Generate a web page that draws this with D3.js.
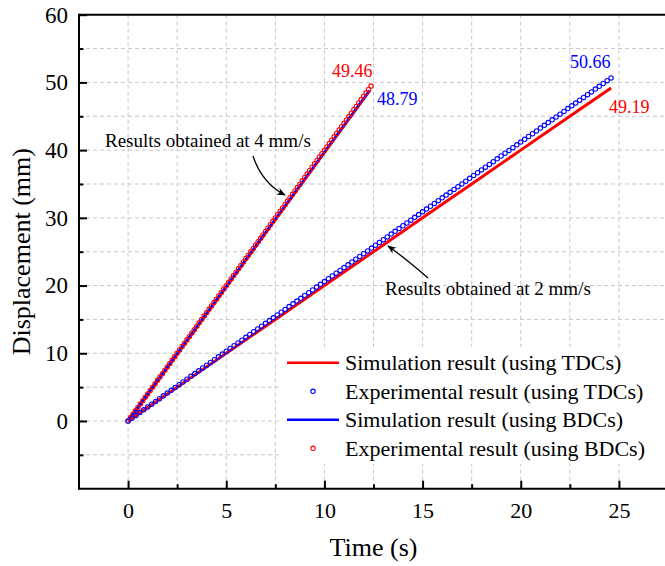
<!DOCTYPE html>
<html><head><meta charset="utf-8">
<script src="https://cdn.jsdelivr.net/npm/d3@7"></script>
<style>
body{margin:0;background:#fff;}
svg{display:block;font-family:"Liberation Serif","Times New Roman",serif;}
</style></head>
<body><svg id="c" width="665" height="566"></svg>
<script>
// ---- data ----
// Experimental result (using TDCs) at 2 mm/s  (blue circles)
const expTDC_t = [0,0.2,0.4,0.6,0.8,1.0,1.2,1.4,1.6,1.8,2.0,2.2,2.4,2.6,2.8,3.0,3.2,3.4,3.6,3.8,4.0,4.2,4.4,4.6,4.8,5.0,5.2,5.4,5.6,5.8,6.0,6.2,6.4,6.6,6.8,7.0,7.2,7.4,7.6,7.8,8.0,8.2,8.4,8.6,8.8,9.0,9.2,9.4,9.6,9.8,10.0,10.2,10.4,10.6,10.8,11.0,11.2,11.4,11.6,11.8,12.0,12.2,12.4,12.6,12.8,13.0,13.2,13.4,13.6,13.8,14.0,14.2,14.4,14.6,14.8,15.0,15.2,15.4,15.6,15.8,16.0,16.2,16.4,16.6,16.8,17.0,17.2,17.4,17.6,17.8,18.0,18.2,18.4,18.6,18.8,19.0,19.2,19.4,19.6,19.8,20.0,20.2,20.4,20.6,20.8,21.0,21.2,21.4,21.6,21.8,22.0,22.2,22.4,22.6,22.8,23.0,23.2,23.4,23.6,23.8,24.0,24.2,24.4,24.6];
const expTDC_d = [0,0.41,0.82,1.24,1.65,2.06,2.47,2.88,3.29,3.71,4.12,4.53,4.94,5.35,5.77,6.18,6.59,7.00,7.41,7.83,8.24,8.65,9.06,9.47,9.88,10.30,10.71,11.12,11.53,11.94,12.36,12.77,13.18,13.59,14.00,14.42,14.83,15.24,15.65,16.06,16.47,16.89,17.30,17.71,18.12,18.53,18.95,19.36,19.77,20.18,20.59,21.01,21.42,21.83,22.24,22.65,23.06,23.48,23.89,24.30,24.71,25.12,25.54,25.95,26.36,26.77,27.18,27.60,28.01,28.42,28.83,29.24,29.65,30.07,30.48,30.89,31.30,31.71,32.13,32.54,32.95,33.36,33.77,34.19,34.60,35.01,35.42,35.83,36.25,36.66,37.07,37.48,37.89,38.30,38.72,39.13,39.54,39.95,40.36,40.78,41.19,41.60,42.01,42.42,42.83,43.25,43.66,44.07,44.48,44.89,45.31,45.72,46.13,46.54,46.95,47.37,47.78,48.19,48.60,49.01,49.42,49.84,50.25,50.66];
// Experimental result (using BDCs) at 4 mm/s  (red circles)
const expBDC_t = [0,0.125,0.25,0.375,0.5,0.625,0.75,0.875,1.0,1.125,1.25,1.375,1.5,1.625,1.75,1.875,2.0,2.125,2.25,2.375,2.5,2.625,2.75,2.875,3.0,3.125,3.25,3.375,3.5,3.625,3.75,3.875,4.0,4.125,4.25,4.375,4.5,4.625,4.75,4.875,5.0,5.125,5.25,5.375,5.5,5.625,5.75,5.875,6.0,6.125,6.25,6.375,6.5,6.625,6.75,6.875,7.0,7.125,7.25,7.375,7.5,7.625,7.75,7.875,8.0,8.125,8.25,8.375,8.5,8.625,8.75,8.875,9.0,9.125,9.25,9.375,9.5,9.625,9.75,9.875,10.0,10.125,10.25,10.375,10.5,10.625,10.75,10.875,11.0,11.125,11.25,11.375,11.5,11.625,11.75,11.875,12.0,12.125,12.25,12.375];
const expBDC_d = [0,0.50,1.00,1.50,2.00,2.50,3.00,3.50,4.00,4.50,5.00,5.50,6.00,6.49,6.99,7.49,7.99,8.49,8.99,9.49,9.99,10.49,10.99,11.49,11.99,12.49,12.99,13.49,13.99,14.49,14.99,15.49,15.99,16.49,16.99,17.49,17.99,18.49,18.98,19.48,19.98,20.48,20.98,21.48,21.98,22.48,22.98,23.48,23.98,24.48,24.98,25.48,25.98,26.48,26.98,27.48,27.98,28.48,28.98,29.48,29.98,30.48,30.98,31.47,31.97,32.47,32.97,33.47,33.97,34.47,34.97,35.47,35.97,36.47,36.97,37.47,37.97,38.47,38.97,39.47,39.97,40.47,40.97,41.47,41.97,42.47,42.97,43.47,43.96,44.46,44.96,45.46,45.96,46.46,46.96,47.46,47.96,48.46,48.96,49.46];
// Simulation result (using TDCs) at 2 mm/s  (red line)
const simTDC_t = [0,2.5,5,7.5,10,12.5,15,17.5,20,22.5,24.6];
const simTDC_d = [0,5.0,10.0,15.0,20.0,25.0,30.0,35.0,40.0,45.0,49.19];
// Simulation result (using BDCs) at 4 mm/s  (blue line)
const simBDC_t = [0,2.5,5,7.5,10,12.3];
const simBDC_d = [0,9.92,19.84,29.76,39.67,48.79];

const xMajor = [0,5,10,15,20,25];
const xMinor = [2.5,7.5,12.5,17.5,22.5];
const yMajor = [0,10,20,30,40,50,60];
const yMinor = [-5,5,15,25,35,45,55];
const xGrid = [0,2.5,5,7.5,10,12.5,15,17.5,20,22.5,25,27.5];
const yGrid = [-5,0,5,10,15,20,25,30,35,40,45,50,55];

const legendLabels = ["Simulation result (using TDCs)","Experimental result (using TDCs)","Simulation result (using BDCs)","Experimental result (using BDCs)"];
const legendKinds = ["line","circle","line","circle"];
const legendColors = ["#ff0000","#0000ff","#0000ff","#ff0000"];

const endLabels = [
  {text:"49.46", color:"#ff0000"},
  {text:"48.79", color:"#0000ff"},
  {text:"50.66", color:"#0000ff"},
  {text:"49.19", color:"#ff0000"}
];

// ---- drawing ----
const svg = d3.select("#c");
const L=79, R=668, T=14.7, B=488.7;
const x = d3.scaleLinear().domain([-2.5,27.5]).range([L,R]);
const y = d3.scaleLinear().domain([-10,60]).range([B,T]);

// grid
const g = svg.append("g");
g.selectAll("line.vg").data(xGrid).join("line")
  .attr("x1",d=>x(d)).attr("x2",d=>x(d)).attr("y1",T).attr("y2",B)
  .attr("stroke","#c8c8c8").attr("stroke-width",1).attr("stroke-dasharray","4,3");
g.selectAll("line.hg").data(yGrid).join("line")
  .attr("y1",d=>y(d)).attr("y2",d=>y(d)).attr("x1",L).attr("x2",665)
  .attr("stroke","#c8c8c8").attr("stroke-width",1).attr("stroke-dasharray","4,3");

// legend background
svg.append("rect").attr("x",281).attr("y",347).attr("width",390).attr("height",117).attr("fill","#fff");

// data
const pts = (ts,ds)=>ts.map((t,i)=>[t,ds[i]]);
const line = d3.line().x(d=>x(d[0])).y(d=>y(d[1]));

svg.append("path").datum(pts(simBDC_t,simBDC_d)).attr("d",line)
  .attr("fill","none").attr("stroke","#0000ff").attr("stroke-width",3);
svg.append("path").datum(pts(simTDC_t,simTDC_d)).attr("d",line)
  .attr("fill","none").attr("stroke","#ff0000").attr("stroke-width",3);

svg.append("g").selectAll("circle").data(pts(expBDC_t,expBDC_d)).join("circle")
  .attr("cx",d=>x(d[0])).attr("cy",d=>y(d[1])).attr("r",2.2)
  .attr("fill","none").attr("stroke","#ff0000").attr("stroke-width",1.1);
svg.append("g").selectAll("circle").data(pts(expTDC_t,expTDC_d)).join("circle")
  .attr("cx",d=>x(d[0])).attr("cy",d=>y(d[1])).attr("r",2.2)
  .attr("fill","none").attr("stroke","#0000ff").attr("stroke-width",1.1);

// axes
const ax = svg.append("g").attr("transform",`translate(0,${B})`)
  .call(d3.axisBottom(x).tickValues(xMajor).tickSize(-8).tickPadding(14).tickFormat(d3.format("d")));
ax.select(".domain").remove();
svg.append("g").attr("transform",`translate(0,${B})`)
  .call(d3.axisBottom(x).tickValues(xMinor).tickSize(-4.5).tickFormat(""))
  .select(".domain").remove();
const ay = svg.append("g").attr("transform",`translate(${L},0)`)
  .call(d3.axisLeft(y).tickValues(yMajor).tickSize(-8).tickPadding(11).tickFormat(d3.format("d")));
ay.select(".domain").remove();
svg.append("g").attr("transform",`translate(${L},0)`)
  .call(d3.axisLeft(y).tickValues(yMinor).tickSize(-4.5).tickFormat(""))
  .select(".domain").remove();
svg.selectAll(".tick line").attr("stroke","#000").attr("stroke-width",2);
ax.selectAll(".tick text").attr("font-size",22).attr("font-family","Liberation Serif").attr("fill","#000");
ay.selectAll(".tick text").attr("font-size",23).attr("font-family","Liberation Serif").attr("fill","#000");

// frame
svg.append("line").attr("x1",L).attr("x2",665).attr("y1",B).attr("y2",B).attr("stroke","#000").attr("stroke-width",2);
svg.append("line").attr("x1",L).attr("x2",665).attr("y1",T).attr("y2",T).attr("stroke","#000").attr("stroke-width",2);
svg.append("line").attr("x1",L).attr("x2",L).attr("y1",T-1).attr("y2",B+1).attr("stroke","#000").attr("stroke-width",2);

// axis titles
svg.append("text").attr("x",(L+R)/2).attr("y",556).attr("text-anchor","middle")
  .attr("font-size",26).text("Time (s)");
svg.append("text").attr("transform",`translate(30,${(T+B)/2}) rotate(-90)`).attr("text-anchor","middle")
  .attr("font-size",26).text("Displacement (mm)");

// end value labels
const endPos = [[332,77.3],[377,105],[570,68.3],[609,112.7]];
svg.selectAll("text.endl").data(endLabels).join("text")
  .attr("x",(d,i)=>endPos[i][0]).attr("y",(d,i)=>endPos[i][1])
  .attr("font-size",18).attr("fill",d=>d.color).text(d=>d.text);

// annotations
svg.append("defs").append("marker").attr("id","ah").attr("viewBox","0 0 10 10")
  .attr("refX",9).attr("refY",5).attr("markerWidth",9).attr("markerHeight",9)
  .attr("markerUnits","userSpaceOnUse").attr("orient","auto")
  .append("path").attr("d","M0,1 L10,5 L0,9 L3,5 Z").attr("fill","#000");
svg.append("text").attr("x",105).attr("y",146.7).attr("font-size",19).text("Results obtained at 4 mm/s");
svg.append("path").attr("d","M253,156 Q262,183 285,195").attr("fill","none").attr("stroke","#000")
  .attr("stroke-width",1.3).attr("marker-end","url(#ah)");
svg.append("text").attr("x",385).attr("y",295).attr("font-size",19).text("Results obtained at 2 mm/s");
svg.append("path").attr("d","M428,278 Q405,258 388,246").attr("fill","none").attr("stroke","#000")
  .attr("stroke-width",1.3).attr("marker-end","url(#ah)");

// legend
const rowsY = [362.7,391.3,419.8,448.3];
const lg = svg.append("g");
legendLabels.forEach((lab,i)=>{
  if(legendKinds[i]==="line"){
    lg.append("line").attr("x1",287).attr("x2",339).attr("y1",rowsY[i]).attr("y2",rowsY[i])
      .attr("stroke",legendColors[i]).attr("stroke-width",2.5);
  } else {
    lg.append("circle").attr("cx",313).attr("cy",rowsY[i]).attr("r",2.2)
      .attr("fill","none").attr("stroke",legendColors[i]).attr("stroke-width",1.1);
  }
  lg.append("text").attr("x",345).attr("y",rowsY[i]+7.5).attr("font-size",22).text(lab);
});
</script></body></html>
